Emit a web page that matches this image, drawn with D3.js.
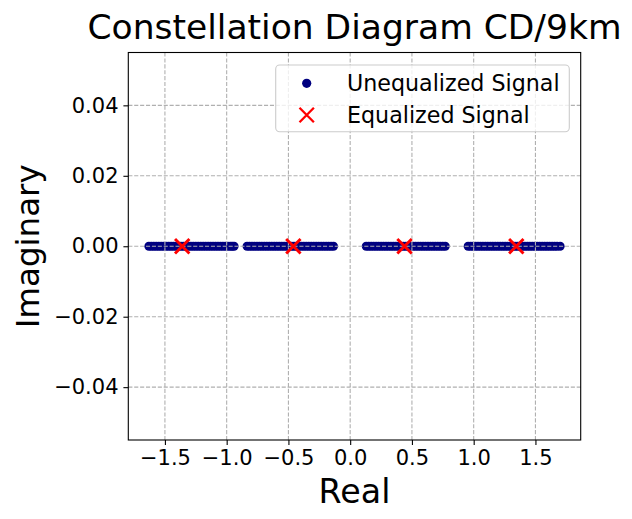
<!DOCTYPE html>
<html><head><meta charset="utf-8">
<script src="https://cdn.jsdelivr.net/npm/d3@7"></script>
<style>html,body{margin:0;padding:0;background:#fff;}svg{display:block;font-family:"DejaVu Sans",sans-serif;}</style>
</head><body>
<script>
// Unequalized signal: real parts of the four clusters (imaginary parts are zero)
const cluster1Real = [-1.63, -1.61, -1.59, -1.57, -1.55, -1.53, -1.51, -1.49, -1.47, -1.45, -1.43, -1.41, -1.39, -1.37, -1.35, -1.33, -1.31, -1.29, -1.27, -1.25, -1.23, -1.21, -1.19, -1.17, -1.15, -1.13, -1.11, -1.09, -1.07, -1.05, -1.03, -1.01, -0.99, -0.97, -0.955, -0.94];
const cluster2Real = [-0.835, -0.815, -0.795, -0.775, -0.755, -0.735, -0.715, -0.695, -0.675, -0.655, -0.635, -0.615, -0.595, -0.575, -0.555, -0.535, -0.515, -0.495, -0.475, -0.455, -0.435, -0.415, -0.395, -0.375, -0.355, -0.335, -0.315, -0.295, -0.275, -0.255, -0.235, -0.215, -0.195, -0.175, -0.155, -0.135];
const cluster3Real = [0.13, 0.15, 0.17, 0.19, 0.21, 0.23, 0.25, 0.27, 0.29, 0.31, 0.33, 0.35, 0.37, 0.39, 0.41, 0.43, 0.45, 0.47, 0.49, 0.51, 0.53, 0.55, 0.57, 0.59, 0.61, 0.63, 0.65, 0.67, 0.69, 0.71, 0.73, 0.75, 0.77];
const cluster4Real = [0.955, 0.975, 0.995, 1.015, 1.035, 1.055, 1.075, 1.095, 1.115, 1.135, 1.155, 1.175, 1.195, 1.215, 1.235, 1.255, 1.275, 1.295, 1.315, 1.335, 1.355, 1.375, 1.395, 1.415, 1.435, 1.455, 1.475, 1.495, 1.515, 1.535, 1.555, 1.575, 1.595, 1.615, 1.635, 1.655, 1.675, 1.70];
const unequalizedReal = [].concat(cluster1Real, cluster2Real, cluster3Real, cluster4Real);
const unequalizedImag = unequalizedReal.map(() => 0);
// Equalized signal
const equalizedReal = [-1.36, -0.46, 0.44, 1.345];
const equalizedImag = [0, 0, 0, 0];
const xTicks = [-1.5, -1.0, -0.5, 0.0, 0.5, 1.0, 1.5];
const yTicks = [-0.04, -0.02, 0.00, 0.02, 0.04];
const seriesNames = ["Unequalized Signal", "Equalized Signal"];

const W = 632, H = 519;
const L = 128.3, R = 580.7, T = 52.5, B = 440;
const svg = d3.select("body").append("svg").attr("width", W).attr("height", H);

const xmin = d3.min(unequalizedReal), xmax = d3.max(unequalizedReal);
const pad = (xmax - xmin) * 0.05;
const x = d3.scaleLinear().domain([xmin - pad, xmax + pad]).range([L, R]);
const y = d3.scaleLinear().domain([-0.055, 0.055]).range([B, T]);

const fmtX = d => d3.format(".1f")(d).replace("-", "\u2212");
const fmtY = d => d3.format(".2f")(Math.abs(d) < 1e-12 ? 0 : d).replace("-", "\u2212");

// points
const pts = unequalizedReal.map((v, i) => [v, unequalizedImag[i]]);
svg.append("g").selectAll("circle").data(pts).join("circle")
  .attr("cx", d => x(d[0])).attr("cy", d => y(d[1])).attr("r", 4.5)
  .attr("fill", "#000080");

// grid (drawn above points as in reference)
const grid = svg.append("g").attr("stroke", "#b0b0b0").attr("stroke-width", 1.1).attr("stroke-dasharray", "4.1,1.8");
grid.selectAll("line.gx").data(xTicks).join("line").attr("class", "gx")
  .attr("x1", d => x(d)).attr("x2", d => x(d)).attr("y1", T).attr("y2", B);
grid.selectAll("line.gy").data(yTicks).join("line").attr("class", "gy")
  .attr("y1", d => y(d)).attr("y2", d => y(d)).attr("x1", L).attr("x2", R);

// equalized X markers
const xm = 7.2;
const crossPath = `M${-xm},${-xm}L${xm},${xm}M${-xm},${xm}L${xm},${-xm}`;
const eq = equalizedReal.map((v, i) => [v, equalizedImag[i]]);
svg.append("g").selectAll("path").data(eq).join("path")
  .attr("transform", d => `translate(${x(d[0])},${y(d[1])})`)
  .attr("d", crossPath).attr("stroke", "#ff0000").attr("stroke-width", 2.9).attr("fill", "none");

// axes
const xAxis = d3.axisBottom(x).tickValues(xTicks).tickFormat(fmtX).tickSize(4.9).tickPadding(4.9);
const yAxis = d3.axisLeft(y).tickValues(yTicks).tickFormat(fmtY).tickSize(4.9).tickPadding(4.9);
const gx = svg.append("g").attr("transform", `translate(0,${B})`).call(xAxis);
const gy = svg.append("g").attr("transform", `translate(${L},0)`).call(yAxis);
[gx, gy].forEach(g => {
  g.attr("font-family", "DejaVu Sans").attr("font-size", 21);
  g.select(".domain").remove();
  g.selectAll("line").attr("stroke", "#000").attr("stroke-width", 1.1);
  g.selectAll("text").attr("fill", "#000");
});

// frame
svg.append("rect").attr("x", L).attr("y", T).attr("width", R - L).attr("height", B - T)
  .attr("fill", "none").attr("stroke", "#000").attr("stroke-width", 1.1);

// legend
const lg = svg.append("g");
lg.append("rect").attr("x", 275.7).attr("y", 65).attr("width", 293.6).attr("height", 66.7)
  .attr("rx", 4).attr("fill", "#fff").attr("fill-opacity", 0.8).attr("stroke", "#cccccc").attr("stroke-width", 1.1);
lg.append("circle").attr("cx", 306.7).attr("cy", 83.3).attr("r", 4.6).attr("fill", "#000080");
lg.append("path").attr("transform", "translate(306.7,115)").attr("d", crossPath)
  .attr("stroke", "#ff0000").attr("stroke-width", 2.3).attr("fill", "none");
lg.selectAll("text").data(seriesNames).join("text")
  .attr("x", 347).attr("y", (d, i) => 83.3 + i * 31.7).attr("dy", "0.36em")
  .attr("font-size", 22.2).attr("fill", "#000").text(d => d);

// titles
svg.append("text").attr("x", (L + R) / 2).attr("y", 38.8).attr("text-anchor", "middle")
  .attr("font-size", 34.5).attr("fill", "#000").text("Constellation Diagram CD/9km");
svg.append("text").attr("x", (L + R) / 2).attr("y", 502.5).attr("text-anchor", "middle")
  .attr("font-size", 33.3).attr("fill", "#000").text("Real");
svg.append("text").attr("transform", `translate(38.5,${(T + B) / 2}) rotate(-90)`).attr("text-anchor", "middle")
  .attr("font-size", 32.5).attr("fill", "#000").text("Imaginary");
</script>
</body></html>
